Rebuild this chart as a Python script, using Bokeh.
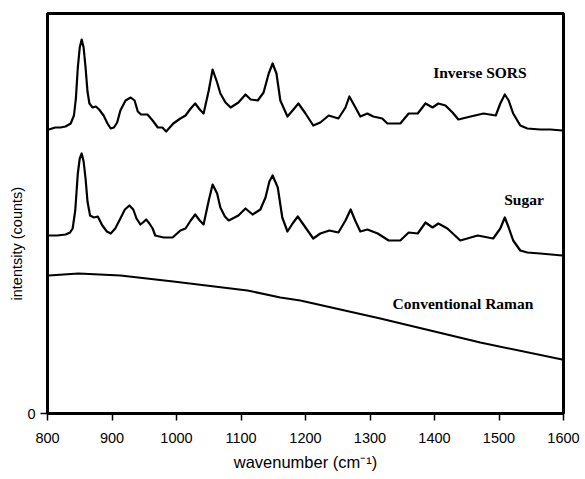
from bokeh.plotting import figure
from bokeh.models import FixedTicker, Label, Range1d, Title
from bokeh.embed import file_html
from bokeh.resources import INLINE

# ---- data ----
sors_wn = [802, 812, 820, 828, 836, 841, 844, 847, 850, 853, 856, 859, 862, 865,
           870, 875, 880, 887, 893, 898, 903, 908, 913, 921, 929, 935, 940, 945,
           955, 963, 971, 978, 984, 995, 1006, 1014, 1022, 1029, 1036, 1042, 1050,
           1056, 1063, 1068, 1076, 1084, 1096, 1107, 1115, 1126, 1135, 1143, 1149,
           1155, 1161, 1172, 1180, 1189, 1200, 1212, 1223, 1236, 1251, 1262, 1268,
           1274, 1285, 1296, 1305, 1319, 1327, 1347, 1360, 1374, 1386, 1397, 1406,
           1417, 1428, 1437, 1456, 1476, 1495, 1502, 1509, 1515, 1522, 1533, 1544,
           1564, 1580, 1598]
sors_y = [284, 286, 286, 287, 290, 298, 315, 346, 366, 374, 366, 346, 322, 310,
          306, 307, 304, 298, 290, 285, 286, 291, 303, 313, 316, 313, 302, 299,
          299, 293, 286, 286, 282, 290, 295, 298, 305, 310, 304, 300, 323,
          344, 331, 320, 311, 306, 311, 319, 314, 313, 321, 340, 350,
          340, 313, 297, 303, 310, 300, 288, 291, 298, 295, 306, 317,
          310, 297, 300, 297, 295, 290, 290, 300, 300, 310, 306, 310,
          308, 301, 294, 297, 300, 298, 310, 319, 313, 300, 288, 285,
          284, 284, 283]

sugar_wn = [802, 815, 828, 835, 839, 843, 847, 850, 853, 856, 859, 862, 866, 872,
            878, 885, 892, 898, 905, 913, 920, 927, 933, 938, 944, 948, 953, 958,
            963, 967, 980, 994, 1006, 1014, 1022, 1029, 1036, 1042, 1050, 1056,
            1063, 1068, 1075, 1081, 1096, 1107, 1118, 1130, 1138, 1144, 1149, 1157,
            1164, 1172, 1180, 1188, 1200, 1212, 1223, 1237, 1251, 1262, 1270, 1277,
            1285, 1296, 1312, 1329, 1347, 1360, 1374, 1386, 1397, 1406, 1420, 1440,
            1467, 1491, 1502, 1509, 1515, 1522, 1533, 1544, 1564, 1598]
sugar_y = [178, 178, 179, 181, 185, 203, 240, 255, 260, 252, 235, 212, 198, 196,
           197, 188, 182, 180, 185, 195, 204, 208, 204, 195, 189, 191, 194, 190,
           185, 178, 176, 176, 183, 185, 193, 199, 193, 189, 213, 229,
           220, 206, 197, 193, 198, 205, 199, 204, 216, 232, 238, 226,
           196, 182, 190, 197, 186, 175, 180, 183, 181, 193, 204, 193,
           182, 184, 180, 173, 173, 181, 180, 191, 186, 190, 185, 173,
           178, 175, 185, 196, 186, 173, 163, 161, 160, 158]

raman_wn = [802, 848, 913, 995, 1110, 1161, 1192, 1316, 1400, 1471, 1598]
raman_y = [138, 140, 138, 132, 123, 116, 113, 95, 82, 71, 54]

x_ticks = [800, 900, 1000, 1100, 1200, 1300, 1400, 1500, 1600]
y_ticks = [0]

series_labels = ["Inverse SORS", "Sugar", "Conventional Raman"]

assert len(sors_wn) == len(sors_y)
assert len(sugar_wn) == len(sugar_y)
assert len(raman_wn) == len(raman_y)

p = figure(width=585, height=479, output_backend="svg", toolbar_location=None,
           x_range=Range1d(800, 1600), y_range=Range1d(0, 400),
           min_border_left=47, min_border_right=22, min_border_top=13,
           min_border_bottom=66)
p.background_fill_color = "white"
p.border_fill_color = "white"
p.outline_line_color = "black"
p.outline_line_width = 3
p.xgrid.visible = False
p.ygrid.visible = False

p.line(sors_wn, sors_y, line_color="black", line_width=2.2, line_join="round")
p.line(sugar_wn, sugar_y, line_color="black", line_width=2.2, line_join="round")
p.line(raman_wn, raman_y, line_color="black", line_width=2.0, line_join="round")

for ax in (p.xaxis[0], p.yaxis[0]):
    ax.axis_line_width = 3
    ax.axis_line_color = "black"
    ax.major_tick_line_width = 1.5
    ax.major_tick_line_color = "black"
    ax.major_tick_out = 7
    ax.major_tick_in = 0
    ax.minor_tick_line_color = None
    ax.major_label_text_font = "Liberation Sans"
    ax.major_label_text_font_size = "14.5px"
    ax.major_label_text_color = "black"

p.xaxis[0].ticker = FixedTicker(ticks=x_ticks)
p.yaxis[0].ticker = FixedTicker(ticks=y_ticks)
p.xaxis[0].major_label_standoff = 12
p.yaxis[0].major_label_standoff = 5
p.xaxis[0].axis_label = "wavenumber (cm\u207b\u00b9)"
p.xaxis[0].axis_label_text_font = "Liberation Sans"
p.xaxis[0].axis_label_text_font_size = "16.5px"
p.xaxis[0].axis_label_text_font_style = "normal"
p.xaxis[0].axis_label_text_color = "black"
p.xaxis[0].axis_label_standoff = 7

# y label placed like the reference (lower than the frame centre)
p.add_layout(Title(text="intentsity (counts)", align="left", offset=113,
                   standoff=0, text_font="Liberation Sans",
                   text_font_size="14.5px", text_font_style="normal",
                   text_color="black"), "left")

label_pos = [(1398, 341), (1508, 214), (1335, 110)]
for txt, (lx, ly) in zip(series_labels, label_pos):
    p.add_layout(Label(x=lx, y=ly, text=txt, text_align="left",
                       text_baseline="alphabetic",
                       text_font="Liberation Serif", text_font_style="bold",
                       text_font_size="15.5px", text_color="black"))

open("out.html", "w").write(file_html(p, INLINE))
